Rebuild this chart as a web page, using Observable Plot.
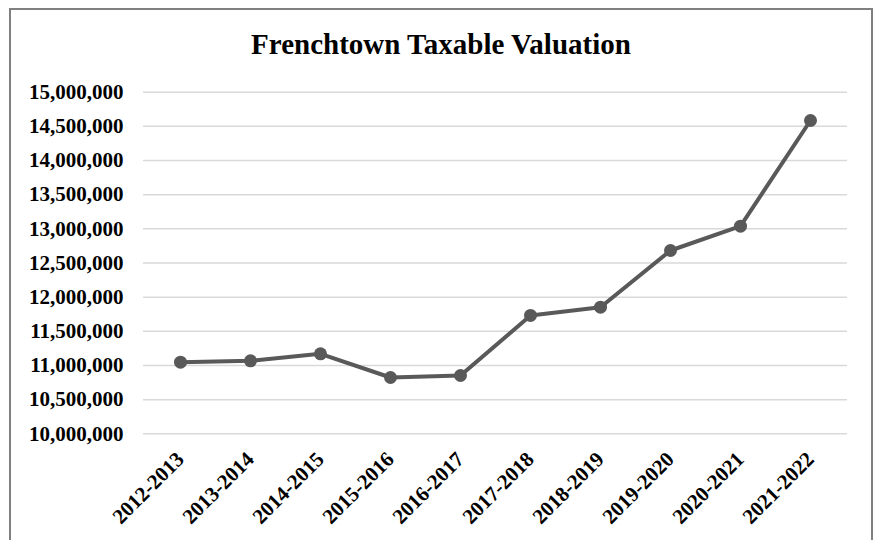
<!DOCTYPE html>
<html>
<head>
<meta charset="utf-8">
<script src="https://cdn.jsdelivr.net/npm/d3@7"></script>
<script src="https://cdn.jsdelivr.net/npm/@observablehq/plot@0.6"></script>
<style>
  html, body { margin: 0; padding: 0; background: #fff; width: 880px; height: 540px; overflow: hidden; }
  #frame {
    position: absolute; left: 9px; top: 8px; width: 860px; height: 600px;
    border: 2px solid #808080; background: #fff;
  }
  #title {
    padding-top: 20px; height: 28px; line-height: 28px; text-align: center;
    font-family: "Liberation Serif", "Times New Roman", serif; font-weight: bold; font-size: 29px; color: #000;
  }
  #chart svg { display: block; }
</style>
</head>
<body>
<div id="frame">
  <div id="title">Frenchtown Taxable Valuation</div>
  <div id="chart"></div>
</div>
<script>
const years = ["2012-2013","2013-2014","2014-2015","2015-2016","2016-2017","2017-2018","2018-2019","2019-2020","2020-2021","2021-2022"];
const values = [11048000, 11068000, 11171000, 10824000, 10853000, 11732000, 11853000, 12683000, 13039000, 14586000];
const yTicks = [10000000, 10500000, 11000000, 11500000, 12000000, 12500000, 13000000, 13500000, 14000000, 14500000, 15000000];

const data = years.map((year, i) => ({year, value: values[i]}));
const fmt = d3.format(",");

const chart = Plot.plot({
  width: 860,
  height: 482,
  marginLeft: 132,
  marginRight: 24,
  marginTop: 33.7,
  marginBottom: 106.7,
  style: "font-family: 'Liberation Serif', 'Times New Roman', serif; font-weight: bold; font-size: 21px; color: #000; background: transparent;",
  x: {type: "point", domain: years, padding: 0.5, label: null},
  y: {domain: [10000000, 15000000], label: null},
  marks: [
    Plot.gridY(yTicks, {stroke: "#d9d9d9", strokeOpacity: 1, strokeWidth: 1.5}),
    Plot.axisY(yTicks, {tickSize: 0, tickPadding: 20, tickFormat: fmt, label: null, fontSize: 21}),
    Plot.axisX({tickSize: 0, tickPadding: 22, tickRotate: -45, label: null, fontSize: 21}),
    Plot.line(data, {x: "year", y: "value", stroke: "#595959", strokeWidth: 4}),
    Plot.dot(data, {x: "year", y: "value", r: 6.5, fill: "#595959", stroke: "none"})
  ]
});
document.getElementById("chart").appendChild(chart);
</script>
</body>
</html>
